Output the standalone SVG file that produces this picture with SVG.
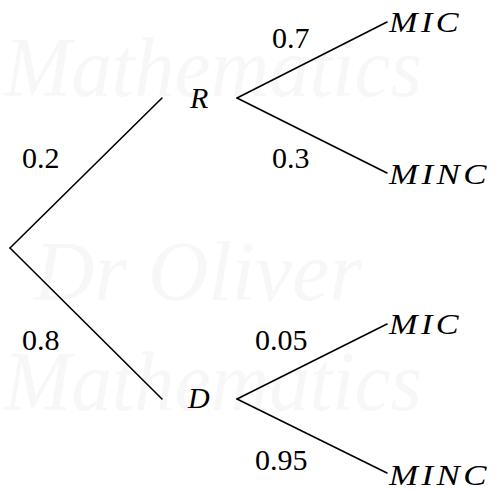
<svg xmlns="http://www.w3.org/2000/svg" width="495" height="491" viewBox="0 0 495 491">
<style>
.wm{font-family:'Liberation Serif','DejaVu Serif',serif;font-style:italic;font-size:84px;fill:#f7f7f7}
.v{font-family:'Liberation Serif','DejaVu Serif',serif;font-style:italic;font-size:30px;fill:#000}
.t{letter-spacing:3px}
.p{font-family:'Liberation Serif','DejaVu Serif',serif;font-size:30px;fill:#000}
.e{stroke:#000;stroke-width:1.6;fill:none;stroke-linecap:round}
</style>
<rect width="495" height="491" fill="#fff"/>
<g id="watermark">
<text class="wm" x="4" y="96" textLength="418" lengthAdjust="spacingAndGlyphs">Mathematics</text>
<text class="wm" x="34" y="300" textLength="328" lengthAdjust="spacingAndGlyphs">Dr Oliver</text>
<text class="wm" x="4" y="410" textLength="418" lengthAdjust="spacingAndGlyphs">Mathematics</text>
</g>
<g id="connectors">
<line class="e" x1="10" y1="248" x2="162" y2="98"/>
<line class="e" x1="10" y1="248" x2="162" y2="399"/>
<line class="e" x1="237" y1="98" x2="387" y2="22"/>
<line class="e" x1="237" y1="98" x2="387" y2="173"/>
<line class="e" x1="237" y1="399" x2="387" y2="324"/>
<line class="e" x1="237" y1="399" x2="387" y2="473"/>
</g>
<g id="labels">
<text class="p" x="22" y="168">0.2</text>
<text class="p" x="22" y="350">0.8</text>
<text class="p" x="272" y="48">0.7</text>
<text class="p" x="272" y="168">0.3</text>
<text class="p" x="255" y="350">0.05</text>
<text class="p" x="255" y="470">0.95</text>
</g>
<g id="node-R"><text class="v" x="190" y="108">R</text></g>
<g id="node-D"><text class="v" x="188" y="408">D</text></g>
<g id="node-R-MIC"><text class="v t" x="389" y="32" textLength="73" lengthAdjust="spacingAndGlyphs">MIC</text></g>
<g id="node-R-MINC"><text class="v t" x="389" y="184" textLength="101" lengthAdjust="spacingAndGlyphs">MINC</text></g>
<g id="node-D-MIC"><text class="v t" x="389" y="334" textLength="73" lengthAdjust="spacingAndGlyphs">MIC</text></g>
<g id="node-D-MINC"><text class="v t" x="389" y="485" textLength="101" lengthAdjust="spacingAndGlyphs">MINC</text></g>
</svg>
